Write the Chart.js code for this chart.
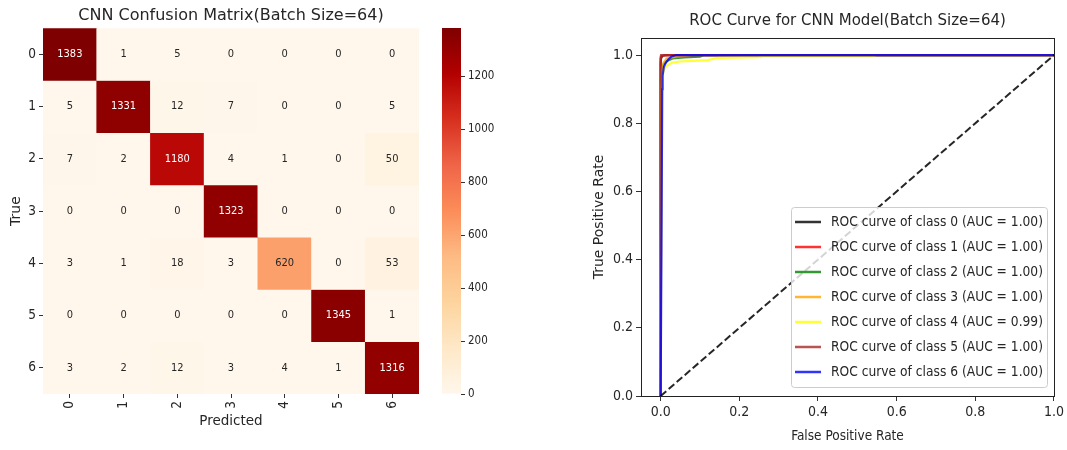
<!DOCTYPE html>
<html>
<head>
<meta charset="utf-8">
<title>CNN confusion matrix and ROC curves</title>
<script src="https://cdn.jsdelivr.net/npm/chart.js@4.4.1/dist/chart.umd.min.js"></script>
<style>
  html, body { margin: 0; padding: 0; background: #fff; }
  body { width: 1067px; height: 450px; position: relative; overflow: hidden; }
  canvas { position: absolute; top: 0; }
</style>
</head>
<body>
<canvas id="cm" width="430" height="450" style="left:0"></canvas>
<canvas id="cb" width="90" height="450" style="left:430px"></canvas>
<canvas id="roc" width="487" height="450" style="left:580px"></canvas>
<script>
// class ids shared by both panels
const CLASS_LABELS = ['0', '1', '2', '3', '4', '5', '6'];

// confusion matrix, one array per true class
const CM_ROWS = [
    [1383, 1, 5, 0, 0, 0, 0],
    [5, 1331, 12, 7, 0, 0, 5],
    [7, 2, 1180, 4, 1, 0, 50],
    [0, 0, 0, 1323, 0, 0, 0],
    [3, 1, 18, 3, 620, 0, 53],
    [0, 0, 0, 0, 0, 1345, 1],
    [3, 2, 12, 3, 4, 1, 1316]
];
const COLORBAR_TICKS = [0, 200, 400, 600, 800, 1000, 1200];

// ROC points per class (false positive rate / true positive rate)
const FPR_0 = [0, 0, 0.001, 0.004, 0.012, 1];
const TPR_0 = [0, 0.975, 0.99, 0.997, 1, 1];
const FPR_1 = [0, 0, 0.002, 0.02, 1];
const TPR_1 = [0, 0.99, 0.998, 1, 1];
const FPR_2 = [0, 0.002, 0.006, 0.015, 0.03, 0.06, 0.1, 0.11, 1];
const TPR_2 = [0, 0.94, 0.97, 0.982, 0.99, 0.993, 0.995, 1, 1];
const FPR_3 = [0, 0.002, 0.006, 0.015, 0.04, 0.08, 1];
const TPR_3 = [0, 0.95, 0.975, 0.99, 0.995, 1, 1];
const FPR_4 = [0, 0.002, 0.004, 0.008, 0.013, 0.02, 0.03, 0.05, 0.08, 0.12, 0.145, 0.25, 0.26, 0.54, 0.55, 1];
const TPR_4 = [0, 0.90, 0.94, 0.955, 0.965, 0.972, 0.978, 0.981, 0.983, 0.985, 0.992, 0.994, 0.997, 0.997, 1, 1];
const FPR_5 = [0, 0, 0.001, 1];
const TPR_5 = [0, 0.995, 1, 1];
const FPR_6 = [0, 0.004, 0.005, 0.008, 0.013, 0.02, 0.028, 0.04, 1];
const TPR_6 = [0, 0.9, 0.94, 0.965, 0.977, 0.988, 0.996, 1, 1];
const AUC = [1.00, 1.00, 1.00, 1.00, 0.99, 1.00, 1.00];
const DIAG_X = [0, 1];
const DIAG_Y = [0, 1];
const RATE_TICKS = [0, 0.2, 0.4, 0.6, 0.8, 1.0];

const ROC_FPR = [FPR_0, FPR_1, FPR_2, FPR_3, FPR_4, FPR_5, FPR_6];
const ROC_TPR = [TPR_0, TPR_1, TPR_2, TPR_3, TPR_4, TPR_5, TPR_6];
const ROC_COLORS = [
    'rgba(0, 0, 0, 0.8)',
    'rgba(255, 0, 0, 0.8)',
    'rgba(0, 128, 0, 0.8)',
    'rgba(255, 165, 0, 0.8)',
    'rgba(255, 255, 0, 0.8)',
    'rgba(165, 42, 42, 0.8)',
    'rgba(0, 0, 255, 0.8)'
];

const TEXT = '#262626';
const NARROW = '"DejaVu Sans Condensed", "DejaVu Sans", sans-serif';
const WIDE = '"DejaVu Sans", sans-serif';
Chart.defaults.font.family = NARROW;
Chart.defaults.color = TEXT;
Chart.defaults.animation = false;
Chart.defaults.events = [];
Chart.defaults.plugins.legend.display = false;
Chart.defaults.plugins.tooltip.enabled = false;

// OrRd colour map
const ORRD = ['#fff7ec', '#fee8c8', '#fdd49e', '#fdbb84', '#fc8d59', '#ef6548', '#d7301f', '#b30000', '#7f0000'];
const hexToRgb = h => [1, 3, 5].map(i => parseInt(h.slice(i, i + 2), 16));
function orRd(t) {
    t = Math.min(1, Math.max(0, t));
    const p = t * (ORRD.length - 1);
    const i = Math.min(Math.floor(p), ORRD.length - 2);
    const f = p - i;
    const a = hexToRgb(ORRD[i]), b = hexToRgb(ORRD[i + 1]);
    return a.map((v, k) => Math.round(v + (b[k] - v) * f));
}
const rgbStr = c => `rgb(${c[0]}, ${c[1]}, ${c[2]})`;
function luminance(c) {
    const lin = c.map(v => {
        v /= 255;
        return v <= 0.03928 ? v / 12.92 : Math.pow((v + 0.055) / 1.055, 2.4);
    });
    return 0.2126 * lin[0] + 0.7152 * lin[1] + 0.0722 * lin[2];
}

const CM_MAX = Math.max(...CM_ROWS.flat());

// writes the count in the middle of every cell
const cellLabels = {
    id: 'cellLabels',
    afterDatasetsDraw(chart) {
        const ctx = chart.ctx;
        ctx.save();
        ctx.font = `11px ${NARROW}`;
        ctx.textAlign = 'center';
        ctx.textBaseline = 'middle';
        CM_ROWS.forEach((row, r) => {
            chart.getDatasetMeta(r).data.forEach((bar, c) => {
                const p = bar.getCenterPoint();
                ctx.fillStyle = luminance(orRd(row[c] / CM_MAX)) > 0.408 ? TEXT : '#ffffff';
                ctx.fillText(String(row[c]), p.x, p.y);
            });
        });
        ctx.restore();
    }
};

const tickGrid = len => ({ drawOnChartArea: false, drawTicks: true, tickLength: len, color: '#333333', offset: false });

new Chart(document.getElementById('cm'), {
    type: 'bar',
    data: {
        labels: CLASS_LABELS,
        datasets: CM_ROWS.map((row, r) => ({
            label: CLASS_LABELS[r],
            data: row.map(() => [r, r + 1]),
            backgroundColor: row.map(v => rgbStr(orRd(v / CM_MAX))),
            borderWidth: 0,
            barPercentage: 1,
            categoryPercentage: 1,
            grouped: false
        }))
    },
    options: {
        responsive: false,
        layout: { padding: { right: 11 } },
        plugins: {
            title: {
                display: true,
                fullSize: false,
                text: 'CNN Confusion Matrix(Batch Size=64)',
                color: TEXT,
                font: { family: WIDE, size: 16, weight: 'normal', lineHeight: 1.2 },
                padding: { top: 6, bottom: 3 }
            }
        },
        scales: {
            x: {
                type: 'category',
                grid: tickGrid(4),
                border: { display: false },
                ticks: { minRotation: 90, maxRotation: 90, padding: 3, font: { size: 13.5 } },
                title: {
                    display: true, text: 'Predicted', color: TEXT,
                    font: { family: WIDE, size: 13.5 }, padding: { top: 0, bottom: 20 }
                },
                afterFit: s => { s.height = 56; }
            },
            y: {
                type: 'linear',
                min: 0,
                max: CLASS_LABELS.length,
                reverse: true,
                grid: tickGrid(4),
                border: { display: false },
                afterBuildTicks: s => { s.ticks = CLASS_LABELS.map((_, i) => ({ value: i + 0.5 })); },
                ticks: { padding: 3, font: { size: 13.5 }, callback: (v, i) => CLASS_LABELS[i] },
                title: {
                    display: true, text: 'True', color: TEXT,
                    font: { family: WIDE, size: 14 }, padding: { top: 8, bottom: 0 }
                },
                afterFit: s => { s.width = 43; }
            }
        }
    },
    plugins: [cellLabels]
});

// colour bar beside the matrix
new Chart(document.getElementById('cb'), {
    type: 'bar',
    data: {
        labels: [''],
        datasets: [{
            data: [CM_MAX],
            backgroundColor: c => {
                const a = c.chart.chartArea;
                if (!a) return null;
                const g = c.chart.ctx.createLinearGradient(0, a.bottom, 0, a.top);
                ORRD.forEach((col, i) => g.addColorStop(i / (ORRD.length - 1), col));
                return g;
            },
            borderWidth: 0,
            barPercentage: 1,
            categoryPercentage: 1
        }]
    },
    options: {
        responsive: false,
        layout: { padding: { left: 12, top: 28, bottom: 56 } },
        scales: {
            x: { display: false },
            y: {
                position: 'right',
                min: 0,
                max: CM_MAX,
                grid: tickGrid(4),
                border: { display: false },
                afterBuildTicks: s => { s.ticks = COLORBAR_TICKS.map(v => ({ value: v })); },
                ticks: { padding: 3, font: { size: 11.5 }, callback: v => String(v) },
                afterFit: s => { s.width = 59; }
            }
        }
    }
});

// frame around the ROC axes
const spines = {
    id: 'spines',
    afterDatasetsDraw(chart) {
        const { ctx, chartArea: a } = chart;
        ctx.save();
        ctx.strokeStyle = '#222222';
        ctx.lineWidth = 1;
        ctx.strokeRect(Math.round(a.left) + 0.5, Math.round(a.top) + 0.5,
            Math.round(a.width), Math.round(a.height));
        ctx.restore();
    }
};

// legend box in the lower right corner of the ROC axes
const rocLegend = {
    id: 'rocLegend',
    afterDraw(chart) {
        const { ctx, chartArea: a } = chart;
        const items = chart.data.datasets.filter(d => d.inLegend);
        const w = 256, rowH = 25, h = items.length * rowH + 5;
        const x0 = a.right - 7 - w, y0 = a.bottom - 9 - h;
        ctx.save();
        ctx.beginPath();
        ctx.roundRect(x0 + 0.5, y0 + 0.5, w, h, 3);
        ctx.fillStyle = 'rgba(255, 255, 255, 0.8)';
        ctx.fill();
        ctx.strokeStyle = '#cccccc';
        ctx.lineWidth = 1;
        ctx.stroke();
        ctx.font = `14px ${NARROW}`;
        ctx.textBaseline = 'middle';
        items.forEach((d, i) => {
            const y = y0 + 15 + i * rowH;
            ctx.strokeStyle = d.borderColor;
            ctx.lineWidth = 2.5;
            ctx.beginPath();
            ctx.moveTo(x0 + 4, y);
            ctx.lineTo(x0 + 30, y);
            ctx.stroke();
            ctx.fillStyle = TEXT;
            ctx.fillText(d.label, x0 + 40, y, 212);
        });
        ctx.restore();
    }
};

const rocSets = ROC_FPR.map((fpr, i) => ({
    label: `ROC curve of class ${CLASS_LABELS[i]} (AUC = ${AUC[i].toFixed(2)})`,
    data: fpr.map((x, k) => ({ x, y: ROC_TPR[i][k] })),
    borderColor: ROC_COLORS[i],
    borderWidth: 2.2,
    showLine: true,
    pointRadius: 0,
    order: ROC_FPR.length - i,
    inLegend: true
}));
rocSets.push({
    label: 'chance',
    data: DIAG_X.map((x, k) => ({ x, y: DIAG_Y[k] })),
    borderColor: 'rgba(0, 0, 0, 0.85)',
    borderWidth: 2,
    borderDash: [7.4, 3.2],
    showLine: true,
    pointRadius: 0,
    order: -1,
    inLegend: false
});

new Chart(document.getElementById('roc'), {
    type: 'scatter',
    data: { datasets: rocSets },
    options: {
        responsive: false,
        layout: { padding: { right: 12 } },
        plugins: {
            title: {
                display: true,
                fullSize: false,
                text: 'ROC Curve for CNN Model(Batch Size=64)',
                color: TEXT,
                font: { family: WIDE, size: 15, weight: 'normal', lineHeight: 1.2 },
                padding: { top: 12, bottom: 8 }
            }
        },
        scales: {
            x: {
                type: 'linear',
                min: -0.05,
                max: 1.0,
                grid: tickGrid(5),
                border: { display: false },
                afterBuildTicks: s => { s.ticks = RATE_TICKS.map(v => ({ value: v })); },
                ticks: { padding: 3, font: { size: 14 }, callback: v => v.toFixed(1) },
                title: {
                    display: true, text: 'False Positive Rate', color: TEXT,
                    font: { size: 13.5 }, padding: { top: 0, bottom: 5 }
                },
                afterFit: s => { s.height = 54; }
            },
            y: {
                type: 'linear',
                min: 0,
                max: 1.05,
                grid: tickGrid(5),
                border: { display: false },
                afterBuildTicks: s => { s.ticks = RATE_TICKS.map(v => ({ value: v })); },
                ticks: { padding: 3, font: { size: 14 }, callback: v => v.toFixed(1) },
                title: {
                    display: true, text: 'True Positive Rate', color: TEXT,
                    font: { family: WIDE, size: 14 }, padding: { top: 11, bottom: 0 }
                },
                afterFit: s => { s.width = 61; }
            }
        }
    },
    plugins: [spines, rocLegend]
});
</script>
</body>
</html>
